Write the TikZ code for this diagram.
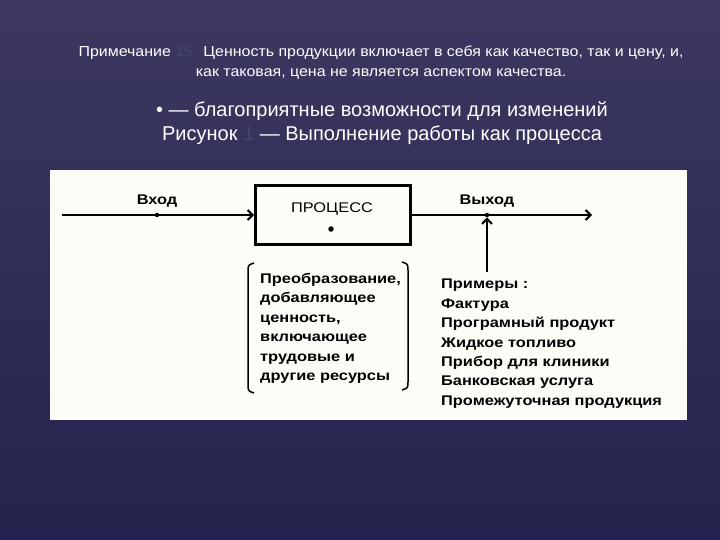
\documentclass[tikz,border=0pt]{standalone}
\usepackage{fontspec}
\setmainfont{Liberation Sans}
\newfontfamily\widefont[FakeStretch=1.17]{Liberation Sans}
\newfontfamily\notefont[FakeStretch=1.1]{Liberation Sans}
\usetikzlibrary{positioning,arrows.meta}
\definecolor{bgtop}{HTML}{3C3860}
\definecolor{bgbot}{HTML}{23234F}
\definecolor{panel}{HTML}{FDFDF7}
\definecolor{faint}{HTML}{46456A}
\tikzset{
  >={Straight Barb[length=5pt,width=10pt]},
  note/.style={text=white, font=\notefont\fontsize{14.5}{20}\selectfont, align=center},
  caption/.style={text=white, font=\fontsize{20}{24}\selectfont, align=center},
  lbl/.style={font=\widefont\bfseries\fontsize{14}{19.4}\selectfont, align=left, inner sep=0pt},
  flow/.style={line width=2pt},
  pt/.style={circle, fill=black, inner sep=0pt, minimum size=4.5pt},
}
\begin{document}
\begin{tikzpicture}[x=1pt,y=-1pt]
\shade[top color=bgtop, bottom color=bgbot] (0,0) rectangle (720,540);
\useasboundingbox (0,0) rectangle (720,540);
% heading text
\node[note] (note) at (381,63) {Примечание {\color{faint}15.} Ценность продукции включает в себя как качество, так и цену, и,\\как таковая, цена не является аспектом качества.};
\node[caption] (cap) at (382,123) {• — благоприятные возможности для изменений\\Рисунок {\color{faint}1} — Выполнение работы как процесса};
% white panel
\fill[panel] (50,170) rectangle (687,420);
% process box
\node[draw, line width=3pt, minimum width=155pt, minimum height=58pt] (proc) at (333,215) {};
\node[font=\widefont\fontsize{14}{15}\selectfont] (proclbl) at (332,209) {ПРОЦЕСС};
\node[pt, minimum size=5.5pt] (procdot) at (331,229) {};
% input and output
\coordinate (in) at (62,215);
\coordinate (out) at (592,215);
\draw[flow,->] (in) -- (proc.west);
\draw[flow,->] (proc.east) -- (out);
\node[pt] (indot) at (157,215) {};
\node[lbl, above=5pt of indot] (inlbl) {Вход};
\node[pt] (outdot) at (487,215) {};
\node[lbl, above=5pt of outdot] (outlbl) {Выход};
% examples and transformation
\node[lbl, anchor=north west] (ex) at (441,279) {Примеры :\\Фактура\\Програмный продукт\\Жидкое топливо\\Прибор для клиники\\Банковская услуга\\Промежуточная продукция};
\draw[flow,->] ([yshift=7pt]ex.north -| outdot) -- (outdot.south);
\node[lbl, anchor=north west] (tr) at (260,273) {Преобразование,\\добавляющее\\ценность,\\включающее\\трудовые и\\другие ресурсы};
\draw[line width=1.5pt] (254,263) .. controls (248,265) .. (248,272) -- (248,384) .. controls (248,391) .. (254,393);
\draw[line width=1.5pt] (402,262) .. controls (408,264) .. (408,271) -- (408,381) .. controls (408,388) .. (402,390);
\end{tikzpicture}
\end{document}
